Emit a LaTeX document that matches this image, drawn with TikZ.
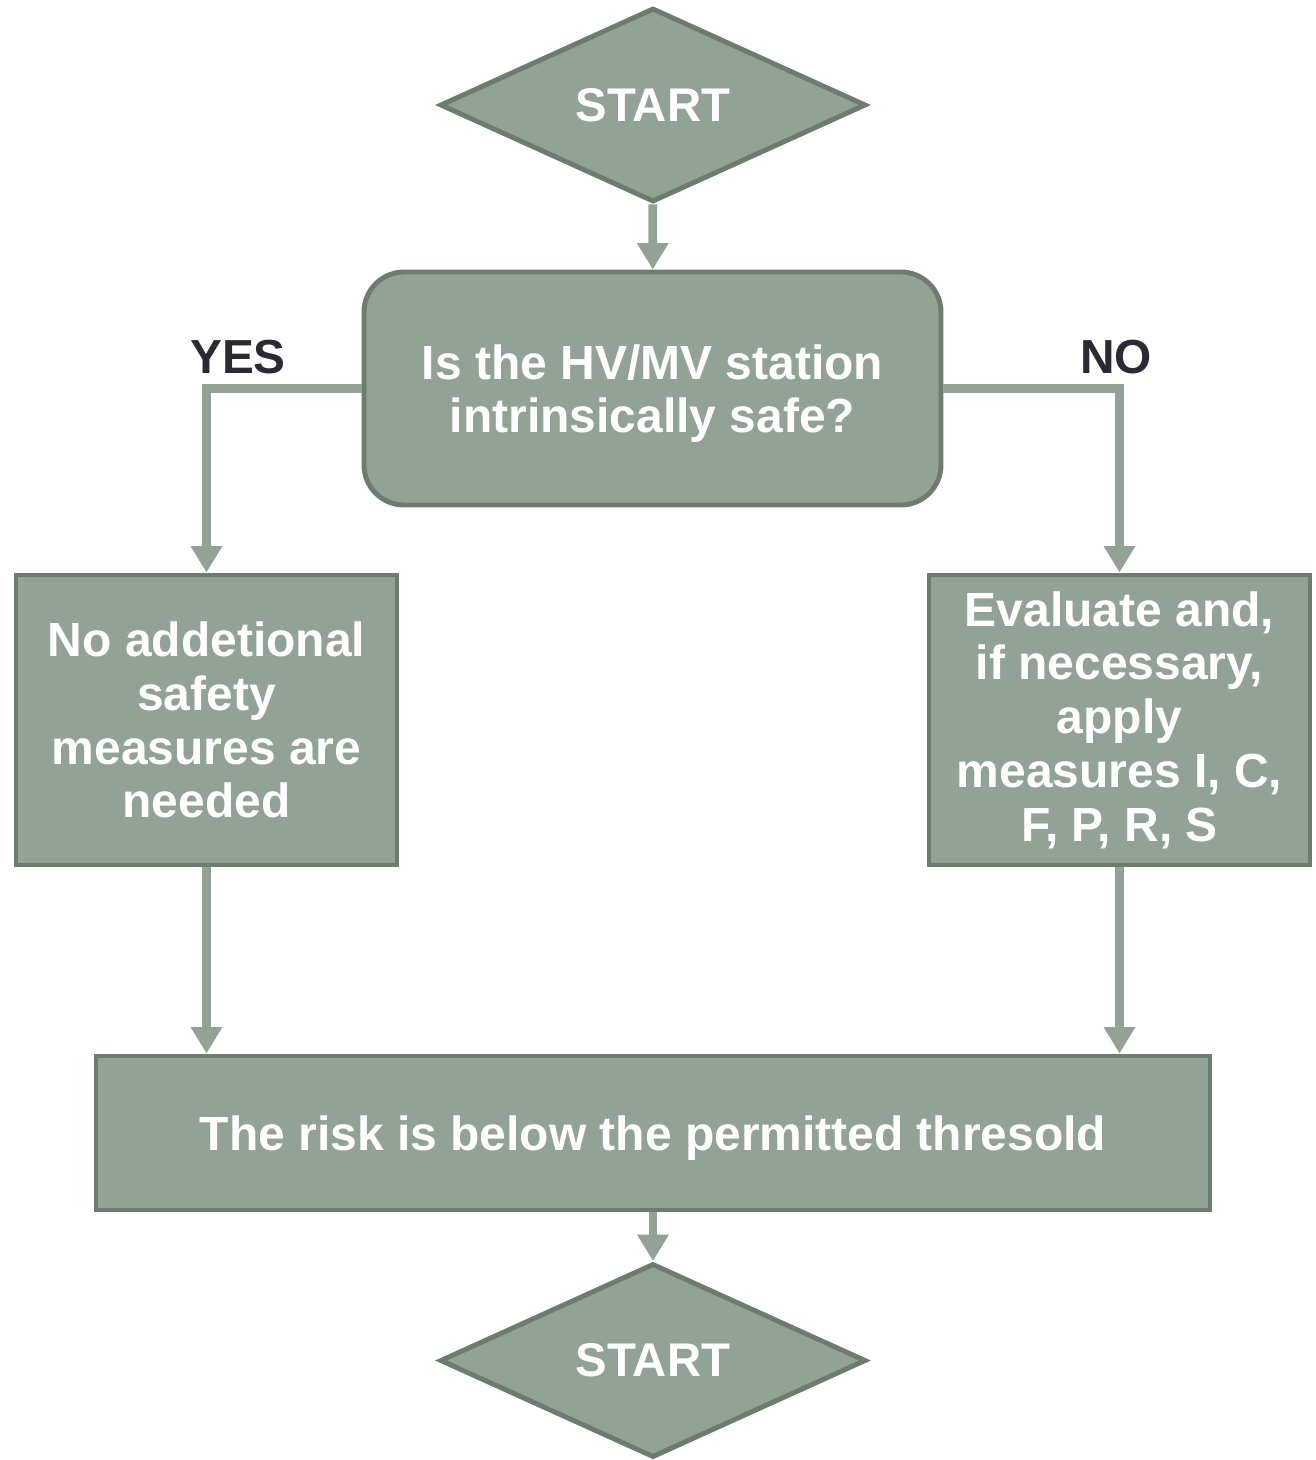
\documentclass[tikz,border=0pt]{standalone}
\usepackage{fontspec}
\setmainfont{Liberation Sans}
\usetikzlibrary{positioning,shapes.geometric,arrows.meta}
\definecolor{sage}{HTML}{93A297}
\definecolor{sagedark}{HTML}{6E7B6F}
\definecolor{ink}{HTML}{2A2A35}
\tikzset{
    block/.style={draw=sagedark, fill=sage, line width=2.8pt, text=white,
        font=\fontsize{27.3}{30.6}\selectfont\bfseries, align=center, inner sep=0pt},
    flow/.style={draw=sage, line width=5pt,
        -{Triangle[width=17pt,length=15pt]}},
    answer/.style={text=ink, font=\fontsize{27.2}{30}\selectfont\bfseries}
}

\begin{document}
\begin{tikzpicture}
\tikzstyle{terminal}=[block, diamond, aspect=2.2, minimum width=8.52cm, minimum height=3.88cm,
    font=\fontsize{26.9}{30}\selectfont\bfseries]
\tikzstyle{box}=[block, rectangle]

\useasboundingbox (0,0) rectangle (26.32,-29.2);

\node[terminal] (start) at (13.06,-2.10) {START};
\node[box, rounded corners=0.8cm, minimum width=11.54cm, minimum height=4.66cm, text depth=0pt]
    (safe) at (13.05,-7.77) {Is the HV/MV station\\intrinsically safe?};
\node[box, minimum width=7.62cm, minimum height=5.8cm]
    (none) at (4.13,-14.4) {No addetional\\safety\\measures are\\needed};
\node[box, minimum width=7.62cm, minimum height=5.8cm]
    (apply) at (22.39,-14.4) {Evaluate and,\\if necessary,\\apply\\measures I, C,\\F, P, R, S};
\node[box, minimum width=22.28cm, minimum height=3.08cm, text depth=0pt]
    (risk) at (13.06,-22.66) {The risk is below the permitted thresold};
\node[terminal] (end) at (13.06,-27.21) {START};

\node[answer] (yes) at (4.76,-7.14) {YES};
\node[answer] (no) at (22.32,-7.14) {NO};

\draw[flow] (start) -- (safe);
\draw[flow] (safe.west) -| (none.north);
\draw[flow] (safe.east) -| (apply.north);
\draw[flow] (none) -- (none.south |- risk.north);
\draw[flow] (apply) -- (apply.south |- risk.north);
\draw[flow] (risk) -- (end);
\end{tikzpicture}
\end{document}
